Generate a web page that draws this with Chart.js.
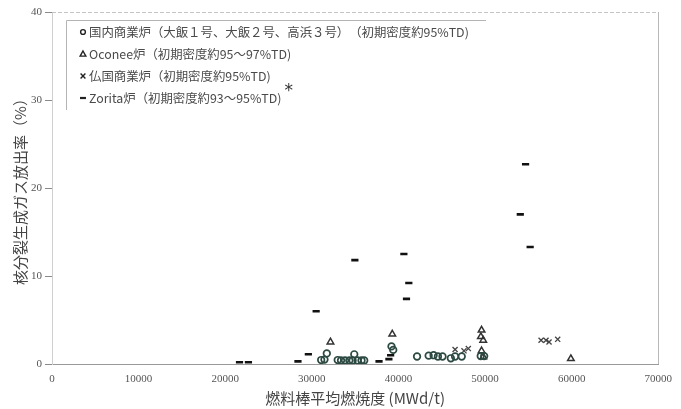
<!DOCTYPE html>
<html>
<head>
<meta charset="utf-8">
<script src="https://cdn.jsdelivr.net/npm/chart.js@4"></script>
<style>
  html, body { margin: 0; padding: 0; background: #fff; }
  #wrap { width: 681px; height: 409px; }
</style>
</head>
<body>
<div id="wrap"><canvas id="c" width="681" height="409"></canvas></div>
<script>
// Fission gas release vs. rod-average burnup, four reactor groups
const seriesLabels = [
  '国内商業炉（大飯１号、大飯２号、高浜３号）　（初期密度約95%TD)',
  'Oconee炉（初期密度約95～97%TD)',
  '仏国商業炉（初期密度約95%TD)',
  'Zorita炉（初期密度約93～95%TD)'
];
const zoritaNote = '*';

// Domestic commercial reactors (circles)
const domesticBurnup = [31080, 31460, 31730, 32990, 33370, 33830, 34330, 34710, 34900, 35280, 35740, 36050,
                        39200, 39400, 42150, 43490, 44060, 44560, 45090, 46050, 46540, 47310, 49500, 49900];
const domesticRelease = [0.45, 0.5, 1.2, 0.45, 0.4, 0.4, 0.4, 0.4, 1.1, 0.4, 0.4, 0.4,
                         2.0, 1.6, 0.85, 0.95, 1.0, 0.85, 0.85, 0.65, 0.85, 0.85, 0.9, 0.9];

// Oconee (triangles)
const oconeeBurnup = [32150, 39290, 49600, 49520, 49790, 49600, 49800, 59910];
const oconeeRelease = [2.5, 3.4, 3.85, 3.1, 2.7, 1.5, 0.8, 0.6];

// French commercial reactors (crosses)
const frenchBurnup = [46540, 47570, 48070, 56470, 57040, 57390, 58390];
const frenchRelease = [1.65, 1.5, 1.75, 2.7, 2.7, 2.5, 2.8];

// Zorita (short dashes)
const zoritaBurnup = [21650, 22680, 28400, 29600, 30500, 34970, 37760, 38900, 39100, 40630, 40930, 41200, 54070, 54680, 55210];
const zoritaRelease = [0.2, 0.2, 0.3, 1.1, 6.0, 11.8, 0.3, 0.55, 1.0, 12.5, 7.4, 9.2, 17.0, 22.7, 13.3];

const xTicks = [0, 10000, 20000, 30000, 40000, 50000, 60000, 70000];
const yTicks = [0, 10, 20, 30, 40];
const xTitle = '燃料棒平均燃焼度 (MWd/t)';
const yTitle = '核分裂生成ガス放出率（%）';

const pairs = (xs, ys) => xs.map((x, i) => ({ x: x, y: ys[i] }));

const markerStyles = [
  { pointStyle: 'circle',   radius: 3.3, borderWidth: 1.7, borderColor: '#2c4a42' },
  { pointStyle: 'triangle', radius: 3.8, borderWidth: 1.5, borderColor: '#333' },
  { pointStyle: 'crossRot', radius: 3.6, borderWidth: 1.3, borderColor: '#444' },
  { pointStyle: 'line',     radius: 3.6, borderWidth: 2.6, borderColor: '#111' }
];
const seriesData = [
  pairs(domesticBurnup, domesticRelease),
  pairs(oconeeBurnup, oconeeRelease),
  pairs(frenchBurnup, frenchRelease),
  pairs(zoritaBurnup, zoritaRelease)
];

const datasets = seriesData.map((d, i) => ({
  label: seriesLabels[i],
  data: d,
  pointStyle: markerStyles[i].pointStyle,
  pointRadius: markerStyles[i].radius,
  pointHoverRadius: markerStyles[i].radius,
  pointBorderWidth: markerStyles[i].borderWidth,
  pointBorderColor: markerStyles[i].borderColor,
  pointBackgroundColor: 'rgba(255,255,255,0)',
  borderColor: markerStyles[i].borderColor,
  backgroundColor: 'rgba(255,255,255,0)',
  showLine: false
}));

// Light frame around the plot (top and right sides)
const plotFrame = {
  id: 'plotFrame',
  beforeDatasetsDraw(chart) {
    const { ctx, chartArea: a } = chart;
    ctx.save();
    ctx.lineWidth = 1;
    ctx.strokeStyle = '#c4c4c4';
    ctx.setLineDash([4, 2]);
    ctx.beginPath();
    ctx.moveTo(a.left, Math.round(a.top) + 0.5);
    ctx.lineTo(a.right, Math.round(a.top) + 0.5);
    ctx.stroke();
    ctx.setLineDash([]);
    ctx.strokeStyle = '#b8b8b8';
    ctx.beginPath();
    ctx.moveTo(Math.round(a.right) + 0.5, a.top);
    ctx.lineTo(Math.round(a.right) + 0.5, a.bottom);
    ctx.stroke();
    ctx.restore();
  }
};

// Boxed legend in the upper-left corner of the plot
function drawMarker(ctx, style, x, y, r) {
  ctx.beginPath();
  if (style === 'circle') {
    ctx.arc(x, y, r, 0, Math.PI * 2);
  } else if (style === 'triangle') {
    ctx.moveTo(x, y - r);
    ctx.lineTo(x + r * 0.95, y + r * 0.7);
    ctx.lineTo(x - r * 0.95, y + r * 0.7);
    ctx.closePath();
  } else if (style === 'crossRot') {
    ctx.moveTo(x - r * 0.8, y - r * 0.8); ctx.lineTo(x + r * 0.8, y + r * 0.8);
    ctx.moveTo(x - r * 0.8, y + r * 0.8); ctx.lineTo(x + r * 0.8, y - r * 0.8);
  } else {
    ctx.moveTo(x - r, y); ctx.lineTo(x + r, y);
  }
  ctx.stroke();
}

const boxedLegend = {
  id: 'boxedLegend',
  afterDatasetsDraw(chart) {
    const ctx = chart.ctx;
    const left = 66, top = 20;
    ctx.save();
    ctx.strokeStyle = '#b4b4b4';
    ctx.lineWidth = 1;
    ctx.beginPath();
    ctx.moveTo(left + 0.5, top + 90);
    ctx.lineTo(left + 0.5, top + 0.5);
    ctx.lineTo(486, top + 0.5);
    ctx.stroke();

    ctx.font = '12.4px "Noto Sans CJK JP"';
    ctx.textBaseline = 'middle';
    chart.data.datasets.forEach((ds, i) => {
      const y = 32 + i * 22;
      const m = markerStyles[i];
      ctx.strokeStyle = '#222';
      ctx.lineWidth = m.pointStyle === 'line' ? 2.2 : 1.4;
      drawMarker(ctx, m.pointStyle, 83, y, m.pointStyle === 'circle' ? 2.4 : 3.0);
      ctx.fillStyle = '#4a4a4a';
      ctx.fillText(ds.label, 89, y);
      if (i === 3) {
        const w = ctx.measureText(ds.label).width;
        ctx.save();
        ctx.font = '17px "DejaVu Sans"';
        ctx.fillStyle = '#333';
        ctx.fillText(zoritaNote, 89 + w + 3, y - 6);
        ctx.restore();
      }
    });
    ctx.restore();
  }
};

new Chart(document.getElementById('c'), {
  type: 'scatter',
  data: { datasets: datasets },
  plugins: [plotFrame, boxedLegend],
  options: {
    responsive: false,
    animation: false,
    devicePixelRatio: 1,
    layout: { padding: { top: 12, right: 18, left: 0, bottom: 0 } },
    plugins: {
      legend: { display: false },
      tooltip: { enabled: false }
    },
    scales: {
      x: {
        type: 'linear',
        min: xTicks[0],
        max: xTicks[xTicks.length - 1],
        afterBuildTicks(scale) { scale.ticks = xTicks.map(v => ({ value: v })); },
        afterFit(scale) { scale.height = 45; },
        grid: { display: true, drawOnChartArea: false, drawTicks: false },
        border: { display: true, color: '#9a9a9a', width: 1 },
        ticks: {
          padding: 9,
          color: '#555',
          font: { family: '"Liberation Serif"', size: 11 },
          callback: v => String(v)
        },
        title: {
          display: true,
          text: xTitle,
          color: '#444',
          font: { family: '"Noto Sans CJK JP"', size: 15 },
          padding: { top: 0, bottom: 2 }
        }
      },
      y: {
        type: 'linear',
        min: yTicks[0],
        max: yTicks[yTicks.length - 1],
        afterBuildTicks(scale) { scale.ticks = yTicks.map(v => ({ value: v })); },
        afterFit(scale) { scale.width = 52; },
        grid: { display: true, drawOnChartArea: false, drawTicks: true, tickLength: 7, color: '#8a8a8a' },
        border: { display: true, color: '#cfcfcf', width: 1 },
        ticks: {
          padding: 3,
          color: '#555',
          font: { family: '"Liberation Serif"', size: 11 }
        },
        title: {
          display: true,
          text: yTitle,
          color: '#444',
          font: { family: '"Noto Sans CJK JP"', size: 15 },
          padding: { top: 11, bottom: 0 }
        }
      }
    }
  }
});
</script>
</body>
</html>
